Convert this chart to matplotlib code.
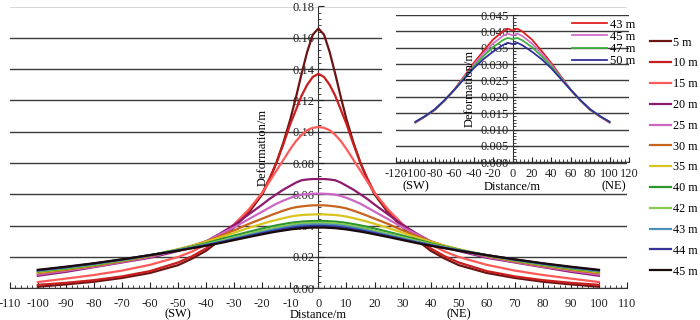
import numpy as np
import matplotlib
matplotlib.use("Agg")
import matplotlib.pyplot as plt
from matplotlib.ticker import MultipleLocator, FormatStrFormatter
from matplotlib.patches import Rectangle
import matplotlib.transforms as mtransforms

plt.rcParams['font.family'] = ['Liberation Serif', 'DejaVu Serif']
plt.rcParams['axes.unicode_minus'] = False
plt.rcParams['font.size'] = 9

# ---- main chart data (half profile, distance from centre, mirrored to both sides) ----
half_dist = [0, 2, 4, 6, 8, 10, 12.5, 15, 17.5, 20, 25, 30, 35, 40, 45, 50, 60, 70, 80, 90, 100]
labels_main = ['5 m', '10 m', '15 m', '20 m', '25 m', '30 m', '35 m', '40 m', '42 m', '43 m', '44 m', '45 m']
colors_main = ['#6b1414', '#c81e1e', '#ff5a5a', '#8c1a6e', '#cc66c4', '#c8641e', '#d8c41e',
               '#2e962e', '#86c850', '#4a90b8', '#34349a', '#1a0a0a']
v5  = [0.166, 0.162, 0.151, 0.137, 0.122, 0.108, 0.093, 0.080, 0.069, 0.060, 0.048, 0.039, 0.031, 0.024, 0.019, 0.0148, 0.0098, 0.0066, 0.0042, 0.0025, 0.0010]
v10 = [0.137, 0.135, 0.130, 0.123, 0.114, 0.105, 0.092, 0.080, 0.070, 0.061, 0.049, 0.040, 0.032, 0.0255, 0.0205, 0.0165, 0.011, 0.0076, 0.0052, 0.0035, 0.0022]
v15 = [0.103, 0.1025, 0.101, 0.098, 0.094, 0.089, 0.082, 0.075, 0.068, 0.061, 0.050, 0.041, 0.034, 0.028, 0.0235, 0.020, 0.015, 0.0113, 0.0085, 0.0062, 0.0040]
v20 = [0.0698, 0.0698, 0.0695, 0.069, 0.0675, 0.0655, 0.063, 0.060, 0.057, 0.0535, 0.047, 0.0405, 0.035, 0.030, 0.0265, 0.0238, 0.0195, 0.0165, 0.0135, 0.0105, 0.0080]
v25 = [0.0605, 0.0604, 0.0602, 0.0598, 0.059, 0.0578, 0.056, 0.054, 0.0515, 0.049, 0.044, 0.039, 0.0345, 0.030, 0.027, 0.0245, 0.020, 0.0168, 0.0138, 0.0112, 0.0088]
v30 = [0.053, 0.053, 0.0527, 0.0523, 0.0518, 0.051, 0.0496, 0.048, 0.0463, 0.0445, 0.041, 0.037, 0.0335, 0.030, 0.0272, 0.0248, 0.0205, 0.0172, 0.0143, 0.0118, 0.0096]
v35 = [0.0472, 0.0472, 0.047, 0.0468, 0.0464, 0.0458, 0.0448, 0.0437, 0.0425, 0.0412, 0.0385, 0.0355, 0.0325, 0.0297, 0.0272, 0.025, 0.021, 0.0177, 0.0148, 0.0123, 0.0102]
v40 = [0.0430, 0.043, 0.0428, 0.0426, 0.0422, 0.0418, 0.041, 0.0402, 0.0392, 0.0382, 0.036, 0.0337, 0.0312, 0.0288, 0.0267, 0.0247, 0.021, 0.0178, 0.015, 0.0126, 0.0107]
v42 = [0.0418, 0.0418, 0.0416, 0.0414, 0.041, 0.0405, 0.0397, 0.0389, 0.0379, 0.0368, 0.0347, 0.0325, 0.0303, 0.0282, 0.0263, 0.0245, 0.0211, 0.018, 0.0153, 0.013, 0.011]
v43 = [0.0408, 0.0408, 0.0406, 0.0404, 0.04, 0.0395, 0.0387, 0.0379, 0.0369, 0.0359, 0.0339, 0.0318, 0.0297, 0.0278, 0.026, 0.0243, 0.0212, 0.0182, 0.0156, 0.0133, 0.0112]
v44 = [0.0398, 0.0398, 0.0396, 0.0394, 0.039, 0.0385, 0.0378, 0.037, 0.0361, 0.0352, 0.0333, 0.0313, 0.0293, 0.0275, 0.0258, 0.0242, 0.0212, 0.0184, 0.0158, 0.0135, 0.0115]
v45 = [0.0388, 0.0388, 0.0386, 0.0384, 0.038, 0.0376, 0.0369, 0.0362, 0.0354, 0.0345, 0.0327, 0.0308, 0.0289, 0.0272, 0.0256, 0.0240, 0.0212, 0.0185, 0.016, 0.0138, 0.0118]
series_main = [v5, v10, v15, v20, v25, v30, v35, v40, v42, v43, v44, v45]

# ---- inset data (half profile) ----
inset_dist = [0, 2, 5, 10, 20, 30, 40, 50, 60, 70, 80, 90, 100]
labels_inset = ['43 m', '45 m', '47 m', '50 m']
colors_inset = ['#e02020', '#d070c8', '#40b040', '#30309a']
i43 = [0.0403, 0.0405, 0.0408, 0.0400, 0.0375, 0.0340, 0.0303, 0.0262, 0.0222, 0.0188, 0.0160, 0.0140, 0.0121]
i45 = [0.0388, 0.0390, 0.0393, 0.0386, 0.0363, 0.0332, 0.0298, 0.0259, 0.0221, 0.0188, 0.0161, 0.0141, 0.0122]
i47 = [0.0376, 0.0378, 0.0380, 0.0373, 0.0352, 0.0324, 0.0293, 0.0257, 0.0221, 0.0189, 0.0161, 0.0141, 0.0123]
i50 = [0.0361, 0.0363, 0.0365, 0.0358, 0.0338, 0.0315, 0.0287, 0.0254, 0.0221, 0.0190, 0.0162, 0.0141, 0.0124]
series_inset = [i43, i45, i47, i50]


def mirror(d, v):
    d = np.asarray(d, float)
    v = np.asarray(v, float)
    return np.concatenate([-d[::-1], d[1:]]), np.concatenate([v[::-1], v[1:]])


W, H = 700, 320
fig = plt.figure(figsize=(7, 3.2), dpi=100)

# ---------- main axes ----------
ax = fig.add_axes([9.8 / W, 1 - 288.3 / H, (627 - 9.8) / W, (288.3 - 6.5) / H])
ax.set_xlim(-110, 110)
ax.set_ylim(0, 0.18)
for s in ['top', 'right']:
    ax.spines[s].set_visible(False)
ax.spines['left'].set_position(('data', 0))
ax.spines['left'].set_color('#333333')
ax.spines['bottom'].set_color('#333333')
ax.yaxis.grid(True, color='#3a3a3a', lw=1.0)
ax.set_axisbelow(True)
ax.xaxis.set_major_locator(MultipleLocator(10))
ax.xaxis.set_minor_locator(MultipleLocator(2))
ax.yaxis.set_major_locator(MultipleLocator(0.02))
ax.yaxis.set_minor_locator(MultipleLocator(0.004))
ax.yaxis.set_major_formatter(FormatStrFormatter('%.2f'))
ax.tick_params(axis='both', which='both', direction='in', colors='#222222', labelsize=9)
ax.tick_params(axis='x', which='major', length=4, pad=7)
ax.tick_params(axis='x', which='minor', length=2.5)
ax.tick_params(axis='y', which='major', length=4, pad=3)
ax.tick_params(axis='y', which='minor', length=2.5)

for v, c, lab in zip(series_main, colors_main, labels_main):
    x, y = mirror(half_dist, v)
    ax.plot(x, y, color=c, lw=1.6, label=lab, zorder=3)

ax.text(-20, 0.09, 'Deformation/m', rotation=90, ha='center', va='center', fontsize=9)
tr = mtransforms.blended_transform_factory(ax.transData, ax.transAxes)
ax.text(0, -0.093, 'Distance/m', transform=tr, ha='center', va='center', fontsize=9)
ax.text(-50, -0.093, '(SW)', transform=tr, ha='center', va='center', fontsize=9)
ax.text(50, -0.093, '(NE)', transform=tr, ha='center', va='center', fontsize=9)

fig.legend(*ax.get_legend_handles_labels(), loc='upper left',
           bbox_to_anchor=(650 / W, 1 - 36.5 / H), frameon=False, borderpad=0,
           borderaxespad=0, handlelength=1.75, handletextpad=0.12, labelspacing=0.73,
           fontsize=8.7)

# ---------- white backing for inset ----------
fig.patches.append(Rectangle((382 / W, 1 - 161 / H), (640 - 382) / W, (161 - 9) / H,
                             transform=fig.transFigure, facecolor='white',
                             edgecolor='none', zorder=1))

# ---------- inset axes ----------
ax2 = fig.add_axes([396 / W, 1 - 162.3 / H, 233 / W, 147.3 / H], zorder=2)
ax2.patch.set_alpha(0)
ax2.set_xlim(-120, 120)
ax2.set_ylim(0, 0.045)
for s in ['top', 'right']:
    ax2.spines[s].set_visible(False)
ax2.spines['left'].set_position(('data', 0))
ax2.spines['left'].set_color('#333333')
ax2.spines['bottom'].set_color('#333333')
ax2.yaxis.grid(True, color='#3a3a3a', lw=1.0)
ax2.set_axisbelow(True)
ax2.xaxis.set_major_locator(MultipleLocator(20))
ax2.xaxis.set_minor_locator(MultipleLocator(4))
ax2.yaxis.set_major_locator(MultipleLocator(0.005))
ax2.yaxis.set_minor_locator(MultipleLocator(0.001))
ax2.yaxis.set_major_formatter(FormatStrFormatter('%.3f'))
ax2.tick_params(axis='both', which='both', direction='in', colors='#222222', labelsize=9)
ax2.tick_params(axis='x', which='major', length=3.5, pad=4)
ax2.tick_params(axis='x', which='minor', length=2)
ax2.tick_params(axis='y', which='major', length=3.5, pad=3)
ax2.tick_params(axis='y', which='minor', length=2)

for v, c, lab in zip(series_inset, colors_inset, labels_inset):
    x, y = mirror(inset_dist, v)
    ax2.plot(x, y, color=c, lw=1.3, label=lab, zorder=3)

ax2.text(-44, 0.0225, 'Deformation/m', rotation=90, ha='center', va='center', fontsize=9)
tr2 = mtransforms.blended_transform_factory(ax2.transData, ax2.transAxes)
ax2.text(0, -0.165, 'Distance/m', transform=tr2, ha='center', va='center', fontsize=9)
ax2.text(-100, -0.165, '(SW)', transform=tr2, ha='center', va='center', fontsize=9)
ax2.text(104, -0.165, '(NE)', transform=tr2, ha='center', va='center', fontsize=9)

ax2.legend(loc='upper left', bbox_to_anchor=(572 / W, 1 - 18.5 / H),
           bbox_transform=fig.transFigure, frameon=False, borderpad=0,
           borderaxespad=0, handlelength=2.8, handletextpad=0.2, labelspacing=0.02,
           fontsize=9)

fig.savefig('out.png', dpi=100)
